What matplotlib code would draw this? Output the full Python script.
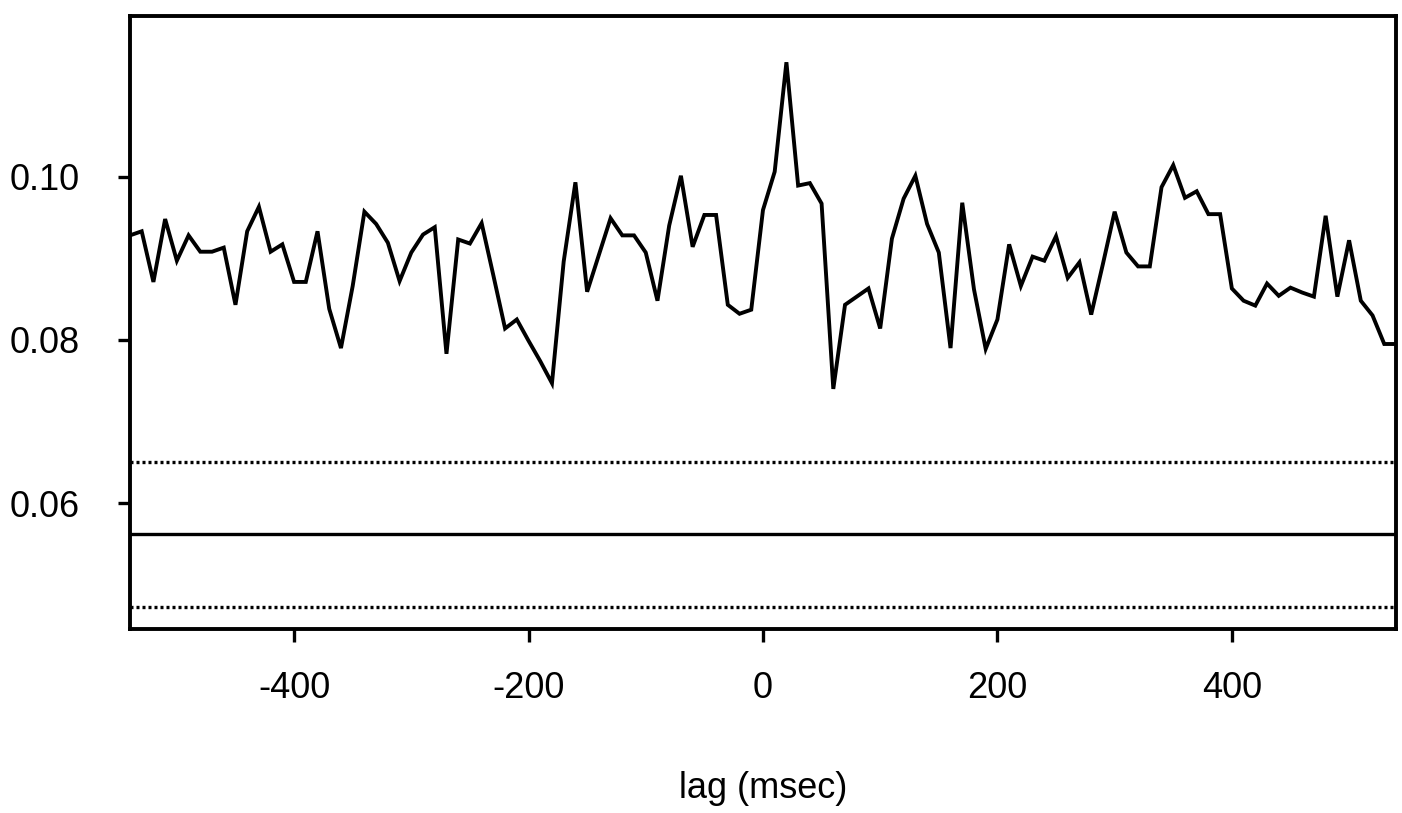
import matplotlib.pyplot as plt
import numpy as np

plt.rcParams['font.family'] = ['Liberation Sans', 'DejaVu Sans']
plt.rcParams['axes.unicode_minus'] = False

# lag in msec, one point every 10 msec
lags = np.arange(-540, 541, 10)

corr = [
    0.0928, 0.0933, 0.0871, 0.0948, 0.0897, 0.0928, 0.0908, 0.0908, 0.0913, 0.0843,
    0.0933, 0.0963, 0.0908, 0.0917, 0.0871, 0.0871, 0.0933, 0.0838, 0.0790, 0.0866,
    0.0957, 0.0942, 0.0919, 0.0872, 0.0907, 0.0929, 0.0938, 0.0783, 0.0923, 0.0918,
    0.0943, 0.0879, 0.0814, 0.0825, 0.0799, 0.0774, 0.0747, 0.0896, 0.0993, 0.0859,
    0.0904, 0.0949, 0.0928, 0.0928, 0.0907, 0.0848, 0.0940, 0.1001, 0.0914, 0.0953,
    0.0953, 0.0843, 0.0832, 0.0837, 0.0959, 0.1006, 0.1140, 0.0989, 0.0992, 0.0967,
    0.0740, 0.0843, 0.0853, 0.0863, 0.0814, 0.0924, 0.0973, 0.1001, 0.0942, 0.0907,
    0.0790, 0.0968, 0.0862, 0.0789, 0.0825, 0.0917, 0.0866, 0.0902, 0.0897, 0.0927,
    0.0876, 0.0895, 0.0831, 0.0893, 0.0957, 0.0907, 0.0890, 0.0890, 0.0987, 0.1014,
    0.0974, 0.0982, 0.0954, 0.0954, 0.0863, 0.0848, 0.0842, 0.0869, 0.0854, 0.0864,
    0.0858, 0.0853, 0.0952, 0.0853, 0.0922, 0.0848, 0.0830, 0.0795, 0.0795,
]

# reference level and its band
mean_level = 0.0562
upper_level = 0.0651
lower_level = 0.0473

xticks = [-400, -200, 0, 200, 400]
yticks = [0.06, 0.08, 0.10]
ytick_labels = ["0.06", "0.08", "0.10"]

fig = plt.figure(figsize=(14.02, 8.13), dpi=100)
ax = fig.add_axes([0.0927, 0.2263, 0.9030, 0.7544])

ax.plot(lags, corr, color='black', lw=2.8, solid_joinstyle='miter')
ax.axhline(mean_level, color='black', lw=2.4)
ax.axhline(upper_level, color='black', lw=2.4, linestyle=(0, (0.9, 0.9)))
ax.axhline(lower_level, color='black', lw=2.4, linestyle=(0, (0.9, 0.9)))

ax.set_xlim(-540, 540)
ax.set_ylim(0.0446, 0.1197)
ax.set_xticks(xticks)
ax.set_yticks(yticks)
ax.set_yticklabels(ytick_labels)

for s in ax.spines.values():
    s.set_linewidth(2.8)
ax.tick_params(direction='out', length=9, width=2.4, labelsize=26)
ax.tick_params(axis='y', pad=27)
ax.tick_params(axis='x', pad=21)
ax.set_xlabel("lag (msec)", fontsize=26, labelpad=47)

fig.savefig("out.png", dpi=100)
